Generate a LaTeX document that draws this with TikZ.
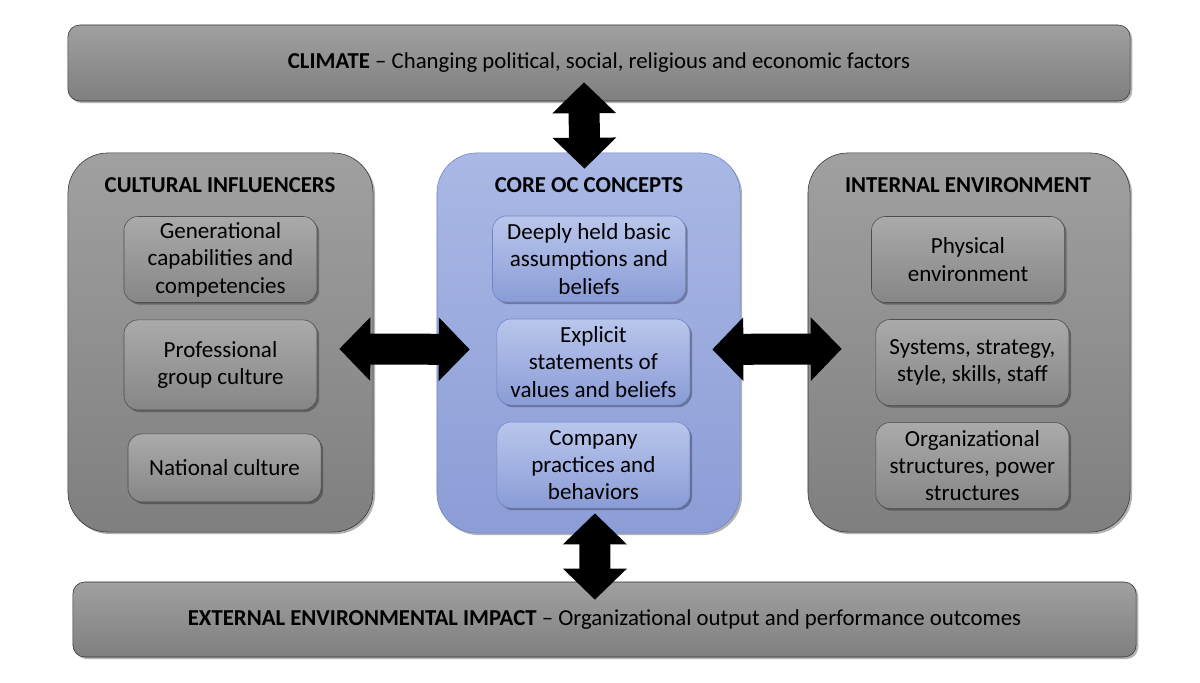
\documentclass[tikz,border=0pt]{standalone}
\usepackage{fontspec}
\setmainfont{Carlito}
\usetikzlibrary{arrows.meta,shadows}

\definecolor{greytop}{HTML}{A0A0A0}
\definecolor{greybot}{HTML}{7F7F7F}
\definecolor{celltop}{HTML}{AAAAAA}
\definecolor{cellbot}{HTML}{868686}
\definecolor{bluetop}{HTML}{A9B8E4}
\definecolor{bluebot}{HTML}{8C9DD7}
\definecolor{bcelltop}{HTML}{B9C6EC}
\definecolor{bcellbot}{HTML}{8A9CD6}
\definecolor{blueline}{HTML}{6F84C6}

\begin{document}
\begin{tikzpicture}[x=0.025cm, y=-0.025cm, node distance=2.575cm,
    softshadow/.style={drop shadow={shadow xshift=1.5pt, shadow yshift=-1.5pt, opacity=0.3, fill=black}},
    band/.style={rectangle, draw=black!80, rounded corners=0.3cm, top color=greytop, bottom color=greybot,
      minimum width=26.55cm, minimum height=1.9cm, font=\fontsize{16.2}{19.4}\selectfont, softshadow},
    frame/.style={rectangle, draw=black!80, rounded corners=1cm, top color=greytop, bottom color=greybot,
      minimum width=7.625cm, minimum height=9.475cm, softshadow},
    blueframe/.style={frame, draw=blueline, top color=bluetop, bottom color=bluebot},
    cell/.style={rectangle, draw=black!70, rounded corners=0.35cm, top color=celltop, bottom color=cellbot,
      minimum width=4.825cm, minimum height=2.15cm, inner sep=0pt, align=center,
      font=\fontsize{16.4}{19.5}\selectfont, softshadow},
    bluecell/.style={cell, draw=blueline, top color=bcelltop, bottom color=bcellbot},
    title/.style={font=\bfseries\fontsize{16.2}{19.4}\selectfont},
    dblarrow/.style={line width=0.775cm, {Triangle[width=1.55cm,length=0.775cm]}-{Triangle[width=1.55cm,length=0.775cm]}}]
  \useasboundingbox (0,0) rectangle (1200,682);

  % outer boxes
  \node (climate) [band] at (599,63) {\textbf{CLIMATE} -- Changing political, social, religious and economic factors};
  \node (external) [band, minimum width=26.575cm, minimum height=1.875cm] at (604.5,619.5) {\textbf{EXTERNAL ENVIRONMENTAL IMPACT} -- Organizational output and performance outcomes};
  \node (cult) [frame] at (220.5,342.5) {};
  \node (core) [blueframe, minimum width=7.575cm, minimum height=9.5cm] at (588.5,343) {};
  \node (internal) [frame, minimum width=8.05cm] at (969,342.5) {};

  % titles
  \node (culttitle) [title] at (220,185) {CULTURAL INFLUENCERS};
  \node (coretitle) [title] at (589,185) {CORE OC CONCEPTS};
  \node (inttitle) [title] at (968,185) {INTERNAL ENVIRONMENT};

  % cultural influencers
  \node (gen) [cell] at (220.5,259.5) {Generational\\capabilities and\\competencies};
  \node (prof) [cell, below of=gen, yshift=-0.06cm, minimum height=2.25cm] {Professional\\group culture};
  \node (nat) [cell, below of=prof, xshift=0.1cm, minimum height=1.7cm] {National culture};

  % core concepts
  \node (deep) [bluecell] at (589,259) {Deeply held basic\\assumptions and\\beliefs};
  \node (expl) [bluecell, below of=deep, xshift=0.11cm] {Explicit\\statements of\\values and beliefs};
  \node (comp) [bluecell, below of=expl] {Company\\practices and\\behaviors};

  % internal environment
  \node (phys) [cell] at (968,259.5) {Physical\\environment};
  \node (sys) [cell, below of=phys, xshift=0.11cm] {Systems, strategy,\\style, skills, staff};
  \node (org) [cell, below of=sys] {Organizational\\structures, power\\structures};

  % links
  \draw [dblarrow] ([xshift=-0.375cm, yshift=0.475cm]climate.south) -- ([xshift=-0.1cm, yshift=-0.4cm]core.north);
  \draw [dblarrow] ([xshift=0.16cm, yshift=0.5cm]core.south) -- ([xshift=-0.24cm, yshift=-0.45cm]external.north);
  \draw [dblarrow] ([xshift=-0.85cm, yshift=-0.16cm]cult.east) -- ([xshift=0.825cm, yshift=-0.16cm]core.west);
  \draw [dblarrow] ([xshift=-0.7cm, yshift=-0.16cm]core.east) -- ([xshift=0.85cm, yshift=-0.16cm]internal.west);
\end{tikzpicture}
\end{document}
